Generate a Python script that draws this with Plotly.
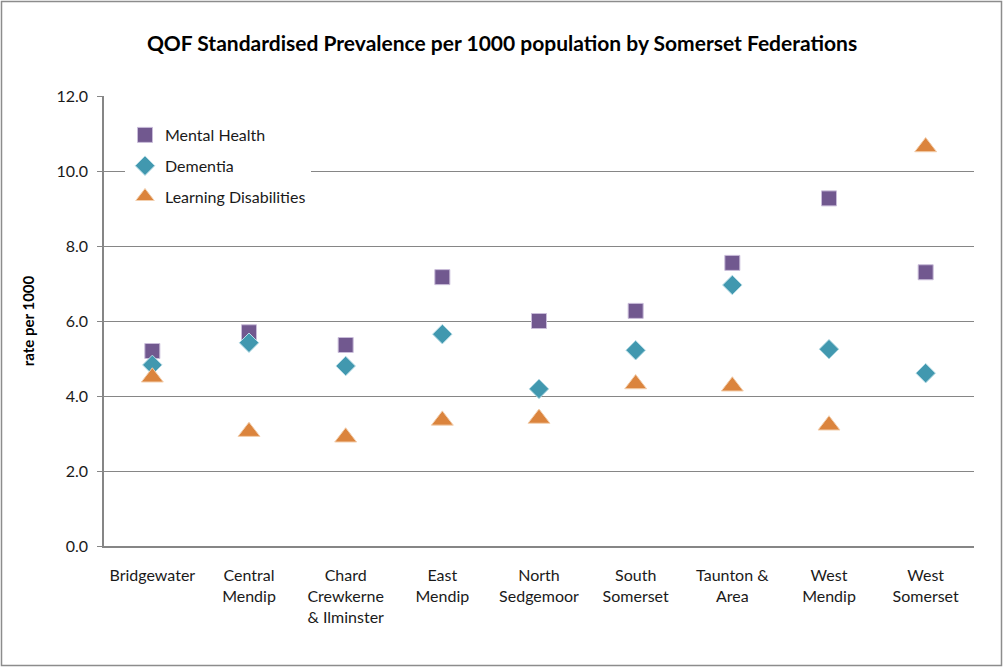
import plotly.graph_objects as go

categories = ["Bridgewater", "Central<br>Mendip", "Chard<br>Crewkerne<br>& Ilminster", "East<br>Mendip",
              "North<br>Sedgemoor", "South<br>Somerset", "Taunton &<br>Area", "West<br>Mendip", "West<br>Somerset"]
mental_health = [5.20, 5.70, 5.36, 7.17, 6.00, 6.27, 7.55, 9.27, 7.30]
dementia = [4.83, 5.42, 4.80, 5.65, 4.19, 5.22, 6.96, 5.25, 4.61]
learning_dis = [4.50, 3.05, 2.90, 3.35, 3.40, 4.32, 4.26, 3.22, 10.64]
y_ticks = [0, 2, 4, 6, 8, 10, 12]

FONT = "Lato"
fig = go.Figure()
fig.add_trace(go.Scatter(x=categories, y=mental_health, mode="markers", name="Mental Health",
                         legendgroup="a",
                         marker=dict(symbol="square", size=15, color="#71588F",
                                     line=dict(width=1, color="#c9bcd9"))))
fig.add_trace(go.Scatter(x=categories, y=dementia, mode="markers", name="Dementia",
                         legendgroup="b",
                         marker=dict(symbol="diamond", size=15, color="#4198AF",
                                     line=dict(width=1, color="#b5dbe5"))))
fig.add_trace(go.Scatter(x=categories, y=learning_dis, mode="markers", name="Learning Disabilities",
                         legendgroup="c",
                         marker=dict(symbol="triangle-up", size=19, color="#DB843D",
                                     line=dict(width=1, color="#f3cfae"))))

L, R, T, B = 104, 30, 96, 122
W, H = 1004, 668
pw, ph = W - L - R, H - T - B

fig.update_layout(
    width=W, height=H,
    margin=dict(l=L, r=R, t=T, b=B),
    paper_bgcolor="white", plot_bgcolor="white",
    font=dict(family=FONT, size=16, color="#1a1a1a"),
    title=dict(text="<b>QOF Standardised Prevalence per 1000 population by Somerset Federations</b>",
               x=0.5, xanchor="center", y=1 - 44 / H, yanchor="middle",
               font=dict(family=FONT, size=21, color="#000000")),
    showlegend=True,
    legend=dict(x=(125 - L) / pw, y=1 - (118 - T) / ph, xanchor="left", yanchor="top",
                bgcolor="rgba(255,255,255,1)", font=dict(family=FONT, size=16, color="#1a1a1a"),
                traceorder="grouped", tracegroupgap=7, itemwidth=30),
    xaxis=dict(range=[-0.5, len(categories) - 0.5], showgrid=False, showline=True,
               linecolor="#868686", linewidth=1.5,
               ticks="", tickfont=dict(size=16), ticklabelstandoff=14, fixedrange=True),
    yaxis=dict(range=[0, 12], tickvals=y_ticks, ticktext=[f"{v:.1f}" for v in y_ticks],
               showgrid=True, gridcolor="#868686", gridwidth=1,
               showline=True, linecolor="#868686", linewidth=1.5,
               ticks="outside", ticklen=5, tickcolor="#868686",
               tickfont=dict(size=16, color="#1a1a1a"), ticklabelstandoff=6,
               title=dict(text="<b>rate per 1000</b>", font=dict(size=15, color="#000000"), standoff=18)),
)

fig.add_shape(type="rect", xref="paper", yref="paper",
              x0=(1.5 - L) / pw, x1=(W - 2.5 - L) / pw,
              y0=-(H - 2.5 - (H - B)) / ph, y1=1 + (T - 1.5) / ph,
              line=dict(color="#8c8c8c", width=1.5), fillcolor="rgba(0,0,0,0)", layer="below")

fig.write_html("out.html", config={"displayModeBar": False},
               post_script="document.body.style.margin='0';document.body.style.overflow='hidden';")
